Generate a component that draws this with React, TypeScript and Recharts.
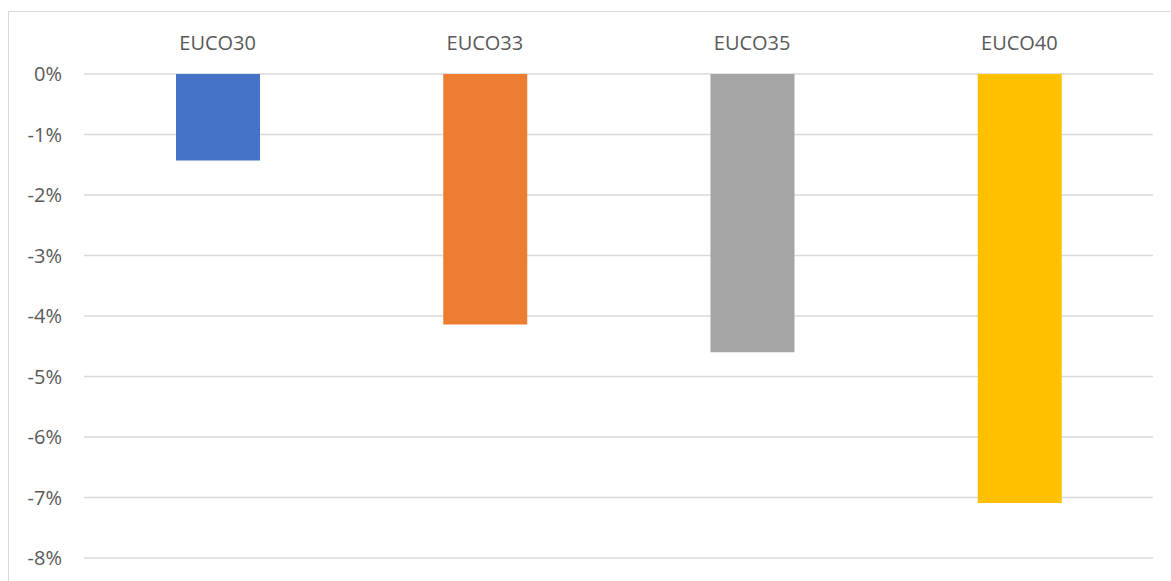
import React from 'react';
import { BarChart, Bar, XAxis, YAxis, CartesianGrid, Cell } from 'recharts';

const scenarios = ['EUCO30', 'EUCO33', 'EUCO35', 'EUCO40'];
const changes = [-1.43, -4.14, -4.6, -7.09];
const barColors = ['#4472c4', '#ed7d31', '#a5a5a5', '#ffc000'];
const yTicks = [0, -1, -2, -3, -4, -5, -6, -7, -8];

const data = scenarios.map((name, i) => ({ name, value: changes[i] }));

const font = '"Open Sans", "Noto Sans", sans-serif';

const App: React.FC = () => {
  return (
    <div style={{ position: 'fixed', left: 0, top: 0, width: 1171, height: 581, overflow: 'hidden', background: '#fff' }}>
      {/* chart frame, runs off the right and bottom edges */}
      <div
        style={{
          position: 'absolute',
          left: 8,
          top: 11,
          width: 1200,
          height: 620,
          border: '1px solid #d9d9d9',
          boxSizing: 'border-box',
        }}
      />
      <div style={{ position: 'absolute', left: 0, top: 0 }}>
        <BarChart
          width={1171}
          height={581}
          data={data}
          margin={{ top: 44, right: 18, bottom: 23, left: 0 }}
        >
          <CartesianGrid vertical={false} stroke="#d9d9d9" strokeWidth={1.5} />
          <XAxis
            dataKey="name"
            orientation="top"
            height={30}
            axisLine={false}
            tickLine={false}
            tickSize={0}
            tickMargin={24}
            tick={{ fill: '#595959', fontSize: 20, fontFamily: font }}
          />
          <YAxis
            width={84}
            domain={[-8, 0]}
            ticks={yTicks}
            interval={0}
            axisLine={false}
            tickLine={false}
            tickSize={0}
            tickMargin={22}
            tickFormatter={(v: number) => `${v}%`}
            tick={{ fill: '#595959', fontSize: 20, fontFamily: font }}
          />
          <Bar dataKey="value" barSize={84} isAnimationActive={false}>
            {data.map((d, i) => (
              <Cell key={d.name} fill={barColors[i]} />
            ))}
          </Bar>
        </BarChart>
      </div>
    </div>
  );
};

export default App;
